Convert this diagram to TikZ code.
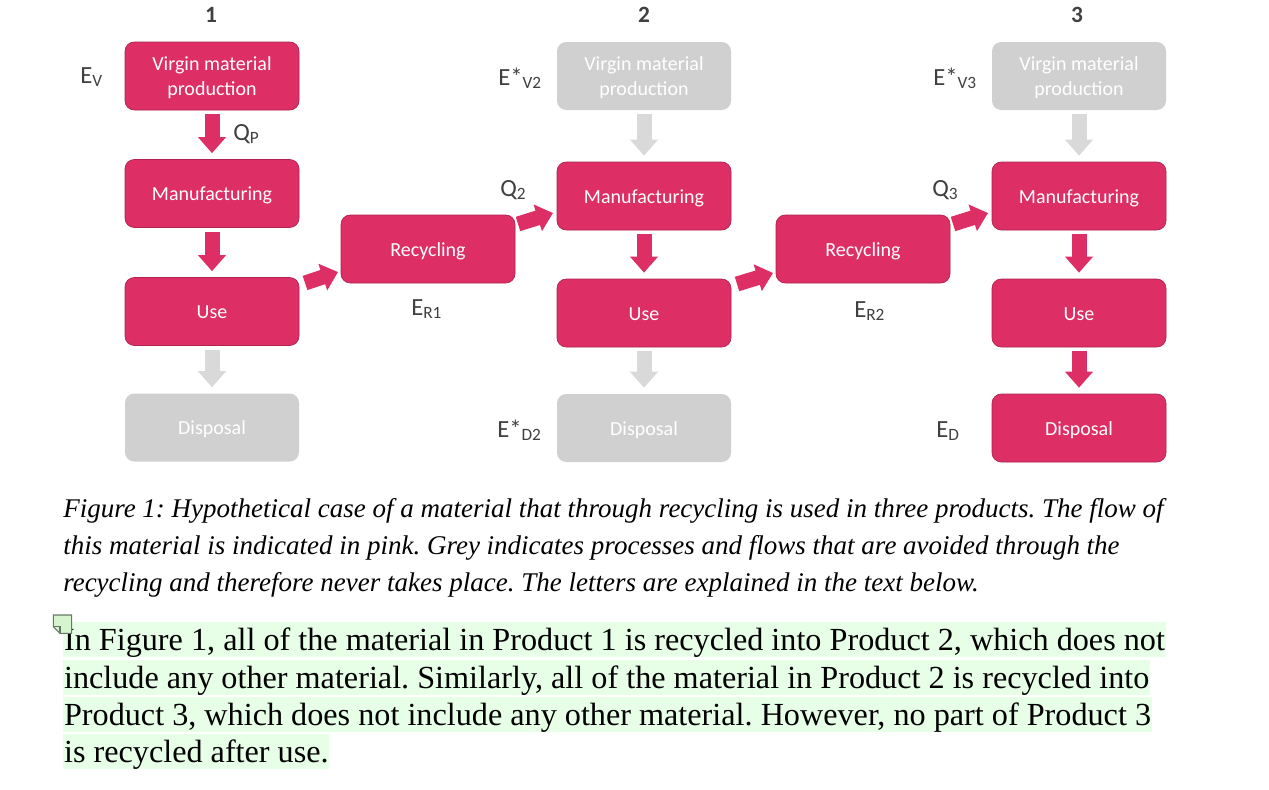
\documentclass[tikz,border=0pt]{standalone}
\usepackage{fontspec}
\setmainfont{Liberation Serif}
\newfontfamily\carlito{Carlito}
\usetikzlibrary{arrows.meta}
\definecolor{pinkc}{RGB}{221,46,101}
\definecolor{pinkd}{RGB}{175,35,78}
\definecolor{greyc}{RGB}{208,208,208}
\definecolor{greya}{RGB}{217,217,217}
\definecolor{labc}{RGB}{64,64,64}
\definecolor{hlc}{RGB}{230,255,230}
\definecolor{notef}{RGB}{214,245,206}
\definecolor{noted}{RGB}{100,120,100}
\frenchspacing
\begin{document}
\begin{tikzpicture}[x=0.75pt,y=-0.75pt,
  box/.style={rounded corners=7pt, minimum width=130.5pt, minimum height=51pt, inner sep=0pt, align=center, text height=11pt, text depth=0pt, font=\carlito\fontsize{15}{18.75}\selectfont},
  twoline/.style={text height=29.75pt},
  pinkbox/.style={box, fill=pinkc, draw=pinkd, line width=0.5pt, text=white},
  greybox/.style={box, fill=greyc, text=white},
  barrow/.style={line width=11.25pt, -{Triangle[length=12pt,width=20.25pt]}, shorten <=3pt, shorten >=4.5pt},
  pinkarrow/.style={barrow, draw=pinkc},
  greyarrow/.style={barrow, draw=greya},
  diagarrow/.style={pinkarrow, shorten <=0pt, shorten >=0pt},
  lab/.style={anchor=base west, inner sep=0pt, text=labc, font=\carlito\fontsize{18.5}{22}\selectfont},
  headnum/.style={anchor=base, inner sep=0pt, text=labc, font=\carlito\bfseries\fontsize{17.5}{20}\selectfont},
  captionline/.style={anchor=base west, inner sep=0pt, font=\itshape\fontsize{20.25}{24}\selectfont},
  bodyline/.style={anchor=base west, inner xsep=0.6pt, inner ysep=0pt, fill=hlc, text height=21pt, text depth=5.25pt, font=\fontsize{24.15}{28}\selectfont}
]
\useasboundingbox (0,0) rectangle (1269,789);
\fill[white] (0,0) rectangle (1269,789);

% column headers
\node[headnum] (h1) at (211,22.5) {1};
\node[headnum] (h2) at (644,22.5) {2};
\node[headnum] (h3) at (1077,22.5) {3};

% column 1
\node[pinkbox,twoline] (v1) at (212,76) {Virgin material\\production};
\node[pinkbox] (m1) at (212,193.5) {Manufacturing};
\node[pinkbox] (u1) at (212,311.5) {Use};
\node[greybox] (d1) at (212,427.5) {Disposal};
\node[pinkbox] (r1) at (428,249) {Recycling};

% column 2
\node[greybox,twoline] (v2) at (644,76) {Virgin material\\production};
\node[pinkbox] (m2) at (644,196) {Manufacturing};
\node[pinkbox] (u2) at (644,313) {Use};
\node[greybox] (d2) at (644,428) {Disposal};
\node[pinkbox] (r2) at (863,249) {Recycling};

% column 3
\node[greybox,twoline] (v3) at (1079,76) {Virgin material\\production};
\node[pinkbox] (m3) at (1079,196) {Manufacturing};
\node[pinkbox] (u3) at (1079,313) {Use};
\node[pinkbox] (d3) at (1079,428) {Disposal};

% vertical arrows
\draw[pinkarrow] (v1.south) -- (m1.north);
\draw[pinkarrow] (m1.south) -- (u1.north);
\draw[greyarrow] (u1.south) -- (d1.north);
\draw[greyarrow] (v2.south) -- (m2.north);
\draw[pinkarrow] (m2.south) -- (u2.north);
\draw[greyarrow] (u2.south) -- (d2.north);
\draw[greyarrow] (v3.south) -- (m3.north);
\draw[pinkarrow] (m3.south) -- (u3.north);
\draw[pinkarrow] (u3.south) -- (d3.north);

% diagonal arrows
\coordinate (a1s) at (305,283);
\coordinate (a1e) at (338,272);
\coordinate (a2s) at (518,224);
\coordinate (a2e) at (553,213);
\coordinate (a3s) at (737,284);
\coordinate (a3e) at (773,273);
\coordinate (a4s) at (953,224);
\coordinate (a4e) at (988,213);
\draw[diagarrow] (a1s) -- (a1e);
\draw[diagarrow] (a2s) -- (a2e);
\draw[diagarrow] (a3s) -- (a3e);
\draw[diagarrow] (a4s) -- (a4e);

% labels
\node[lab] (lev) at (80,83) {E\textsubscript{V}};
\node[lab] (lqp) at (233,140) {Q\textsubscript{P}};
\node[lab] (lev2) at (498,85) {E*\textsubscript{V2}};
\node[lab] (lq2) at (500,196) {Q\textsubscript{2}};
\node[lab] (ler1) at (411,315) {E\textsubscript{R1}};
\node[lab] (led2) at (497,437) {E*\textsubscript{D2}};
\node[lab] (lev3) at (933,85) {E*\textsubscript{V3}};
\node[lab] (lq3) at (932,196) {Q\textsubscript{3}};
\node[lab] (ler2) at (854,317) {E\textsubscript{R2}};
\node[lab] (led) at (936,437) {E\textsubscript{D}};

% caption
\node[captionline] (c1) at (63,517) {Figure 1: Hypothetical case of a material that through recycling is used in three products. The flow of};
\node[captionline] (c2) at (63,554) {this material is indicated in pink. Grey indicates processes and flows that are avoided through the};
\node[captionline] (c3) at (63,591) {recycling and therefore never takes place. The letters are explained in the text below.};

% body text
\node[bodyline] (b1) at (63,650) {In Figure 1, all of the material in Product 1 is recycled into Product 2, which does not};
\node[bodyline] (b2) at (63,688) {include any other material. Similarly, all of the material in Product 2 is recycled into};
\node[bodyline] (b3) at (63,725) {Product 3, which does not include any other material. However, no part of Product 3};
\node[bodyline] (b4) at (63,762) {is recycled after use.};

% comment note icon
\draw[fill=notef, draw=noted, line width=0.8pt] (53.3,615) -- (71.7,615) -- (71.7,633.3) -- (60,633.3) -- (53.3,626.7) -- cycle;
\draw[draw=noted, line width=0.8pt] (53.3,626.7) -- (60,626.7) -- (60,633.3);
\end{tikzpicture}
\end{document}
